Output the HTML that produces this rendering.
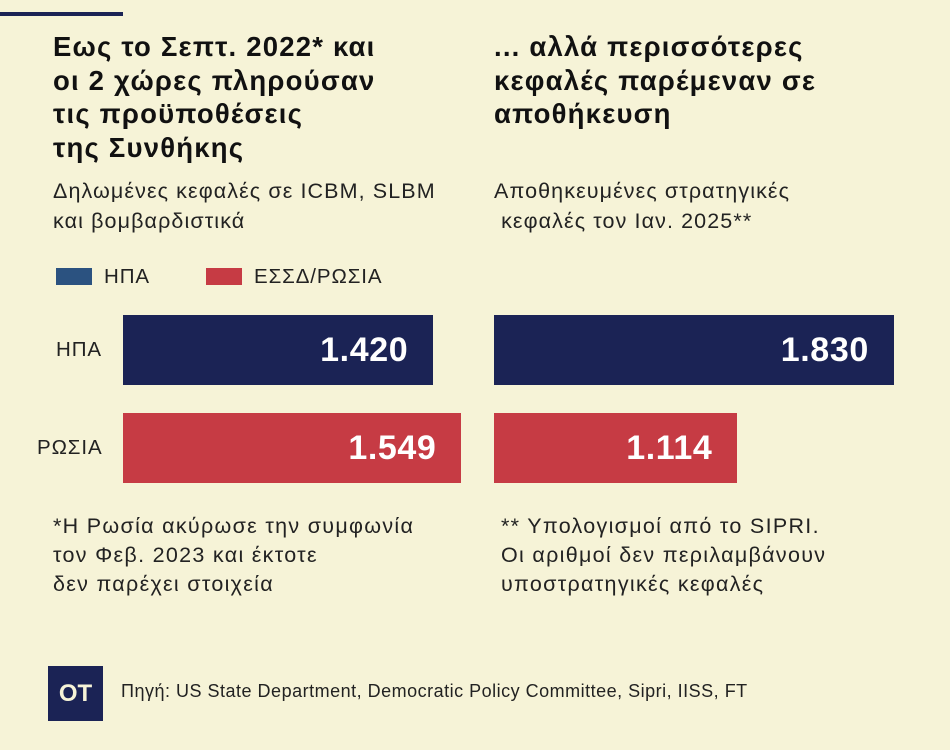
<!DOCTYPE html>
<html><head><meta charset="utf-8"><style>
body{margin:0;width:950px;height:750px;background:#f6f3d7;font-family:"Liberation Sans","DejaVu Sans",sans-serif;color:#111;position:relative;overflow:hidden}
.a{position:absolute;white-space:nowrap}
.t{font-weight:bold;font-size:27.5px;line-height:33.5px;letter-spacing:1.2px}
.s{font-size:21.5px;line-height:30px;color:#222;letter-spacing:1.1px}
.n{font-size:21.5px;line-height:29px;color:#222;letter-spacing:1.3px}
.l{font-size:20.5px;line-height:30px;color:#222;letter-spacing:0.9px}
</style></head><body>
<div class="a" style="left:0;top:12px;width:123px;height:4px;background:#1b2355"></div>
<div class="a t" style="left:53px;top:30px">Εως το Σεπτ. 2022* και<br>οι 2 χώρες πληρούσαν<br>τις προϋποθέσεις<br>της Συνθήκης</div>
<div class="a t" style="left:494px;top:30px">... αλλά περισσότερες<br>κεφαλές παρέμεναν σε<br>αποθήκευση</div>
<div class="a s" style="left:53px;top:176px">Δηλωμένες κεφαλές σε ICBM, SLBM<br>και βομβαρδιστικά</div>
<div class="a s" style="left:494px;top:176px">Αποθηκευμένες στρατηγικές<br>&nbsp;κεφαλές τον Ιαν. 2025**</div>
<div class="a" style="left:56px;top:268px;width:36px;height:17px;background:#2b5280"></div>
<div class="a l" style="left:104px;top:262px">ΗΠΑ</div>
<div class="a" style="left:206px;top:268px;width:36px;height:17px;background:#c63b44"></div>
<div class="a l" style="left:254px;top:262px">ΕΣΣΔ/ΡΩΣΙΑ</div>
<div class="a l" style="left:56px;top:335px">ΗΠΑ</div>
<div class="a l" style="left:37px;top:433px">ΡΩΣΙΑ</div>
<div id="bars"></div>
<div class="a n" style="left:53px;top:512px">*Η Ρωσία ακύρωσε την συμφωνία<br>τον Φεβ. 2023 και έκτοτε<br>δεν παρέχει στοιχεία</div>
<div class="a n" style="left:501px;top:512px">** Υπολογισμοί από το SIPRI.<br>Οι αριθμοί δεν περιλαμβάνουν<br>υποστρατηγικές κεφαλές</div>
<div class="a" style="left:48px;top:666px;width:55px;height:55px;background:#1b2355;color:#f6f3d7;font-weight:bold;font-size:24px;line-height:55px;text-align:center">OT</div>
<div class="a" style="left:121px;top:681px;font-size:18px;color:#222;letter-spacing:0.5px">Πηγή: US State Department, Democratic Policy Committee, Sipri, IISS, FT</div>
<script>
const leftValues=[1420,1549];
const rightValues=[1830,1114];
const valueLabels=[["1.420","1.549"],["1.830","1.114"]];
const colors=["#1b2355","#c63b44"];
const scale=0.2185;
const x=v=>v*scale;
const rowTop=[315,413];
const origins=[123,494];
const c=document.getElementById('bars');
[leftValues,rightValues].forEach((vals,p)=>{
 vals.forEach((v,i)=>{
  const b=document.createElement('div');
  
  
  b.className='a';
  b.style.cssText=`left:${origins[p]}px;top:${rowTop[i]}px;width:${x(v)}px;height:70px;background:${colors[i]};color:#fff;font-weight:bold;font-size:34px;letter-spacing:0.6px;line-height:70px;text-align:right;box-sizing:border-box;padding-right:25px`;
  b.textContent=valueLabels[p][i];
  c.appendChild(b);
 });
});
</script>
</body></html>
